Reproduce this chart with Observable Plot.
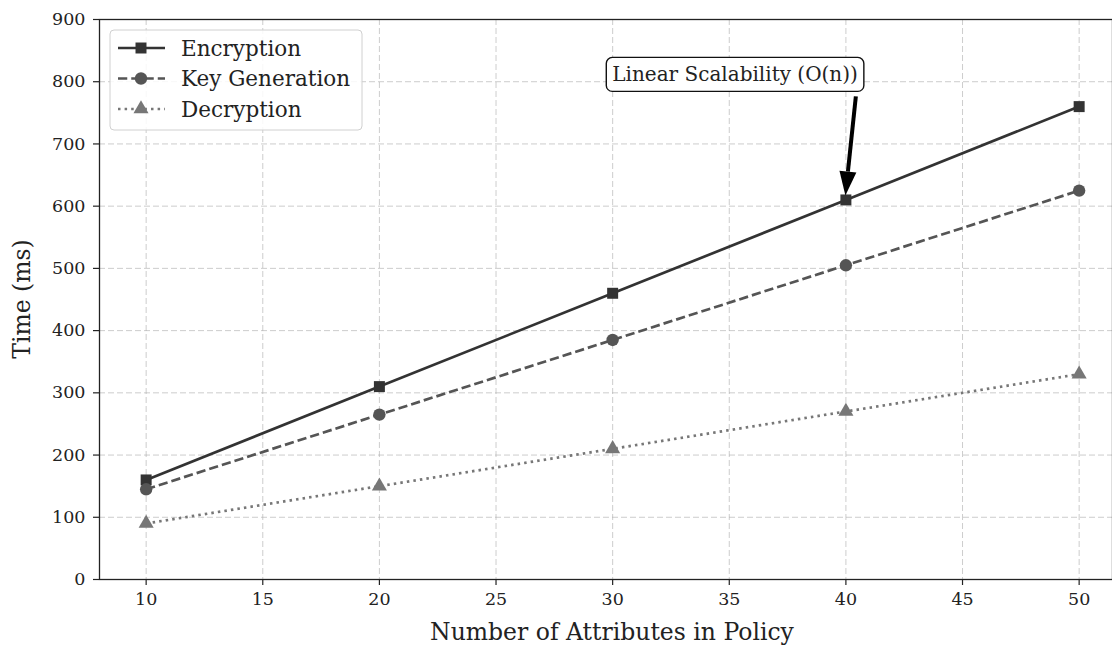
<!DOCTYPE html>
<html><head><meta charset="utf-8">
<script src="https://cdn.jsdelivr.net/npm/d3@7"></script>
<script src="https://cdn.jsdelivr.net/npm/@observablehq/plot@0.6"></script>
<style>
body{margin:0;background:#fff;}
#chart{width:1112px;height:646px;overflow:hidden;}
</style></head>
<body><div id="chart"></div>
<script>
const attributes = [10, 20, 30, 40, 50];
const encryption = [160, 310, 460, 610, 760];
const keyGeneration = [145, 265, 385, 505, 625];
const decryption = [90, 150, 210, 270, 330];
const seriesNames = ["Encryption", "Key Generation", "Decryption"];
const xTicks = [10, 15, 20, 25, 30, 35, 40, 45, 50];
const yTicks = [0, 100, 200, 300, 400, 500, 600, 700, 800, 900];
const xLabel = "Number of Attributes in Policy";
const yLabel = "Time (ms)";
const annotationText = "Linear Scalability (O(n))";
const annotationTarget = {x: 40, y: 610};
const annotationTextPos = {x: 35.27, y: 811};

const styles = {
  "Encryption": {color: "#333333", dash: null, symbol: "square", r: 6.2},
  "Key Generation": {color: "#555555", dash: "9.25,4", symbol: "circle", r: 6.2},
  "Decryption": {color: "#777777", dash: "2.5,4.1", symbol: "triangle", r: 5.6}
};
const values = [encryption, keyGeneration, decryption];
const data = seriesNames.flatMap((s, i) => attributes.map((a, j) => ({series: s, x: a, y: values[i][j]})));

const font = "'DejaVu Serif', serif";
const marks = [
  Plot.gridX(xTicks, {stroke: "#b0b0b0", strokeOpacity: 0.7, strokeDasharray: "6,3", strokeWidth: 0.9}),
  Plot.gridY(yTicks, {stroke: "#b0b0b0", strokeOpacity: 0.7, strokeDasharray: "6,3", strokeWidth: 0.9}),
  Plot.axisX(xTicks, {tickSize: 6, tickPadding: 7, fontSize: 17.5, label: null, fill: "#222", stroke: "#222", strokeWidth: 1.2, tickFormat: d => d}),
  Plot.axisY(yTicks, {tickSize: 6, tickPadding: 8, fontSize: 17.5, label: null, fill: "#222", stroke: "#222", strokeWidth: 1.2})
];
for (const s of seriesNames) {
  const st = styles[s];
  const d = data.filter(v => v.series === s);
  marks.push(Plot.line(d, {x: "x", y: "y", stroke: st.color, strokeWidth: 2.7, strokeDasharray: st.dash, strokeLinecap: "butt"}));
  marks.push(Plot.dot(d, {x: "x", y: "y", fill: st.color, symbol: st.symbol, r: st.r, stroke: "none"}));
}
marks.push(Plot.frame({stroke: "#222", strokeWidth: 1.3}));

const plot = Plot.plot({
  width: 1112, height: 646,
  marginLeft: 99, marginRight: 0, marginTop: 19, marginBottom: 67,
  style: {fontFamily: font, fontSize: "17px", color: "#222", background: "#fff"},
  x: {domain: [8, 51.43]},
  y: {domain: [0, 900]},
  marks
});
document.getElementById("chart").appendChild(plot);

const svg = d3.select(plot);
const xs = plot.scale("x"), ys = plot.scale("y");

// Axis labels
svg.append("text").attr("x", 612).attr("y", 632).attr("text-anchor", "middle").attr("dominant-baseline", "central")
  .attr("font-family", font).attr("font-size", 23.5).attr("fill", "#222").text(xLabel);
svg.append("text").attr("transform", "translate(22,299) rotate(-90)").attr("text-anchor", "middle").attr("dominant-baseline", "central")
  .attr("font-family", font).attr("font-size", 23.5).attr("fill", "#222").text(yLabel);

// Annotation box and arrow
const g = svg.append("g");
const tx = xs.apply(annotationTextPos.x), ty = ys.apply(annotationTextPos.y);
const t = g.append("text").attr("x", tx).attr("y", ty).attr("text-anchor", "middle").attr("dominant-baseline", "central")
  .attr("font-family", font).attr("font-size", 20).attr("fill", "#222").text(annotationText);
const bb = t.node().getBBox();
g.insert("rect", "text").attr("x", bb.x - 6).attr("y", ty - 17).attr("width", bb.width + 12).attr("height", 34)
  .attr("rx", 6).attr("fill", "#fff").attr("stroke", "#111").attr("stroke-width", 1.4);
const ax2 = xs.apply(annotationTarget.x), ay2 = ys.apply(annotationTarget.y) - 4;
const ax1 = bb.x + bb.width - 2, ay1 = ty + 22;
const ang = Math.atan2(ay2 - ay1, ax2 - ax1);
const hl = 24, hw = 8.5;
const bx = ax2 - hl * Math.cos(ang), by = ay2 - hl * Math.sin(ang);
g.append("line").attr("x1", ax1).attr("y1", ay1).attr("x2", bx).attr("y2", by).attr("stroke", "#000").attr("stroke-width", 4);
g.append("path").attr("d", `M${ax2},${ay2}L${bx + hw * Math.sin(ang)},${by - hw * Math.cos(ang)}L${bx - hw * Math.sin(ang)},${by + hw * Math.cos(ang)}Z`).attr("fill", "#000");

// Legend
const lg = svg.append("g");
lg.append("rect").attr("x", 110).attr("y", 30).attr("width", 252).attr("height", 100).attr("rx", 4)
  .attr("fill", "#fff").attr("fill-opacity", 0.85).attr("stroke", "#d0d0d0");
const sym = {square: d3.symbolSquare, circle: d3.symbolCircle, triangle: d3.symbolTriangle};
seriesNames.forEach((s, i) => {
  const st = styles[s];
  const y = 48 + i * 30.5;
  lg.append("line").attr("x1", 118).attr("x2", 165).attr("y1", y).attr("y2", y).attr("stroke", st.color)
    .attr("stroke-width", 2.7).attr("stroke-dasharray", st.dash);
  lg.append("path").attr("transform", `translate(141,${y})`).attr("d", d3.symbol(sym[st.symbol], Math.PI * st.r * st.r)()).attr("fill", st.color);
  lg.append("text").attr("x", 181).attr("y", y).attr("text-anchor", "start").attr("dominant-baseline", "central")
    .attr("font-family", font).attr("font-size", 21.5).attr("fill", "#222").text(s);
});
</script></body></html>
